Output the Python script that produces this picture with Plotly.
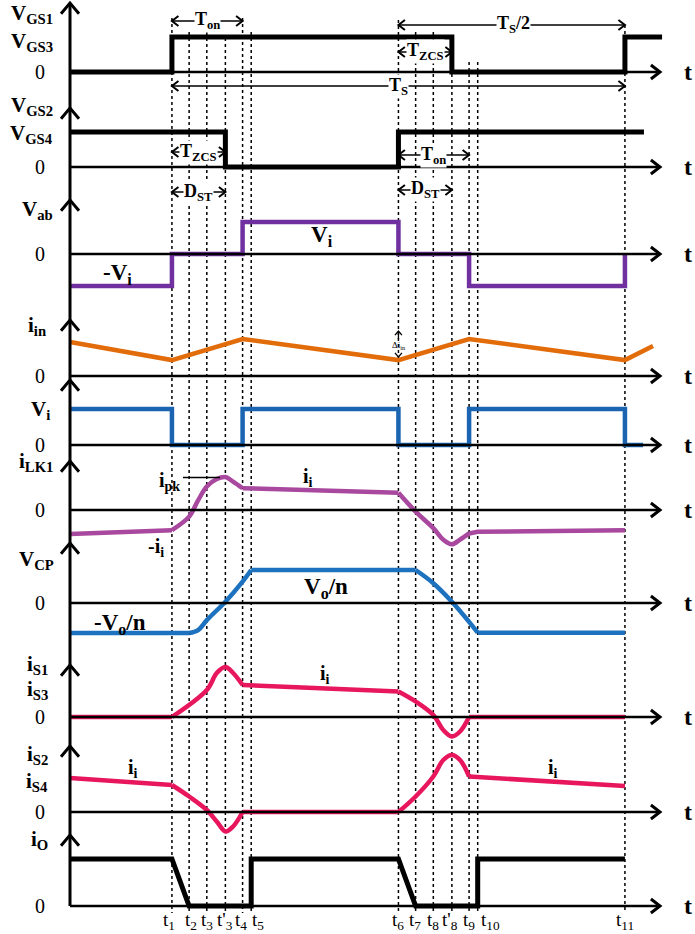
import plotly.graph_objects as go

W, H = 695, 934
SERIF = "Liberation Serif"
PX0 = 70            # pixel column of the vertical axis (t = 0)
PX_PER_T = 4.53     # pixels per time unit (Ts = 100 units)

# ---------------- data ----------------
instant_labels = ["t<sub>1</sub>", "t<sub>2</sub>", "t<sub>3</sub>", "t'<sub>3</sub>", "t<sub>4</sub>",
                  "t<sub>5</sub>", "t<sub>6</sub>", "t<sub>7</sub>", "t<sub>8</sub>", "t'<sub>8</sub>",
                  "t<sub>9</sub>", "t<sub>10</sub>", "t<sub>11</sub>"]
instants = [22.5, 26.3, 30.2, 34.3, 38.1, 40.0, 72.5, 76.3, 80.2, 84.3, 88.1, 90.0, 122.5]
T1, T2, T3, T3P, T4, T5, T6, T7, T8, T8P, T9, T10, T11 = instants

vgs13_t = [0, T1, T1, T8P, T8P, T11, T11, 130.7]
vgs13_v = [0, 0, 1, 1, 0, 0, 1, 1]

vgs24_t = [0, T3P, T3P, T6, T6, 126.7]
vgs24_v = [1, 1, 0, 0, 1, 1]

vab_t = [0, T1, T1, T4, T4, T6, T6, T9, T9, T11, T11]
vab_v = [-1, -1, 0, 0, 1, 1, 0, 0, -1, -1, 0]

iin_t = [0, T1, T4, T6, T9, T11, 128.7]
iin_v = [0.92, 0.43, 1.0, 0.43, 1.0, 0.43, 0.81]

vi_t = [0, T1, T1, T4, T4, T6, T6, T9, T9, T11, T11, 126.5]
vi_v = [1, 1, 0, 0, 1, 1, 0, 0, 1, 1, 0, 0]

# pieces: (shape, times, values)
ilk1_pieces = [
    ("linear", [0, T1], [-0.73, -0.61]),
    ("spline", [T1, T2, 28.3, T3, 32.4, T3P, 36.0, T4], [-0.61, -0.2, 0.3, 0.71, 0.94, 1.0, 0.86, 0.66]),
    ("linear", [T4, T6], [0.66, 0.52]),
    ("spline", [T6, T7, T8, 82.4, T8P, 86.1, T9], [0.52, -0.05, -0.55, -0.9, -1.04, -0.9, -0.71]),
    ("linear", [T9, T10, T11], [-0.71, -0.66, -0.61]),
]

vcp_pieces = [
    ("linear", [0, T2], [-0.91, -0.91]),
    ("spline", [T2, 28.3, T3, T3P, T4, T5], [-0.91, -0.82, -0.52, 0.04, 0.65, 1.0]),
    ("linear", [T5, T7], [1.0, 1.0]),
    ("spline", [T7, T8, T8P, T9, T10], [1.0, 0.6, 0.04, -0.57, -0.9]),
    ("linear", [T10, T11], [-0.9, -0.9]),
]

is13_pieces = [
    ("linear", [0, T1], [0, 0]),
    ("spline", [T1, T3, 32.4, T3P, 36.0, T4], [0, 0.54, 0.88, 1.0, 0.88, 0.64]),
    ("linear", [T4, T6], [0.64, 0.51]),
    ("spline", [T6, T7, T8, 82.4, T8P, 86.1, T9], [0.51, 0.31, 0.04, -0.26, -0.39, -0.29, 0]),
    ("linear", [T9, T11], [0, 0]),
]

is24_pieces = [
    ("linear", [0, T1], [0.68, 0.54]),
    ("spline", [T1, T2, T3, 32.4, T3P, 36.0, T4], [0.54, 0.31, 0.04, -0.19, -0.39, -0.29, 0]),
    ("linear", [T4, T6], [0, 0]),
    ("spline", [T6, T7, T8, 82.4, T8P, 86.1, T9], [0, 0.31, 0.71, 1.04, 1.14, 1.04, 0.71]),
    ("linear", [T9, T10, T11], [0.71, 0.70, 0.52]),
]

io_t = [0, T1, T2, T5, T5, T6, T7, T10, T10, T11]
io_v = [1, 1, 0, 0, 1, 1, 0, 0, 1, 1]

# ---------------- layout geometry ----------------
# per row: baseline pixel, pixels per unit, arrow tip pixel
rows = [(72, 35, 3), (167, 35, 108), (254, 32, 200), (376, 37, 320), (445, 36, 380),
        (510, 33, 461), (603, 33, 543), (717, 50, 665), (812, 50, 746), (906, 47, 835)]
AXIS_END = (660 - PX0) / PX_PER_T
dash_top_px = [18, 32, 32, 38, 18, 32, 20, 32, 32, 38, 62, 62, 25]
label_shift = [-3, 2, 0, 0, -2, 7, 0, -1, 0, -2, 0, 13, 0]


def yname(k):
    return "y" if k == 0 else f"y{k + 1}"


def py(px):
    return 1 - px / H


shapes = []
annotations = []


def chevron(x, y, direction, xref="x", yref="paper", s=9, width=2.5):
    paths = {
        "up": f"M {-s} {-s * 1.2} L 0 0 L {s} {-s * 1.2}",
        "right": f"M {-s * 1.3} {s} L 0 0 L {-s * 1.3} {-s}",
        "left": f"M {s * 1.3} {s} L 0 0 L {s * 1.3} {-s}",
        "down": f"M {-s} {s * 1.2} L 0 0 L {s} {s * 1.2}",
    }
    shapes.append(dict(type="path", xref=xref, yref=yref, xsizemode="pixel", ysizemode="pixel",
                       xanchor=x, yanchor=y, path=paths[direction],
                       line=dict(color="black", width=width)))


def label(text, x_px, y_px, size=21, bold=True, xanchor="center"):
    annotations.append(dict(text=f"<b>{text}</b>" if bold else text, x=x_px / W, y=py(y_px),
                            xref="paper", yref="paper", xanchor=xanchor, yanchor="middle",
                            showarrow=False, font=dict(family=SERIF, size=size, color="black")))


def span(ta, tb, y_px, text, t_text):
    shapes.append(dict(type="line", xref="x", yref="paper", x0=ta, x1=tb, y0=py(y_px), y1=py(y_px),
                       line=dict(color="black", width=1.6)))
    chevron(ta, py(y_px), "left", s=5, width=2)
    chevron(tb, py(y_px), "right", s=5, width=2)
    annotations.append(dict(text=f"<b>{text}</b>", x=t_text, y=py(y_px), xref="x", yref="paper",
                            xanchor="center", yanchor="middle", showarrow=False, bgcolor="white",
                            borderpad=0, font=dict(family=SERIF, size=18, color="black")))


fig = go.Figure()

# dashed instant markers
for t, top in zip(instants, dash_top_px):
    shapes.append(dict(type="line", xref="x", yref="paper", x0=t, x1=t, y0=py(top), y1=py(913),
                       line=dict(color="black", width=1.5, dash="dot"), layer="below"))

# axes
shapes.append(dict(type="line", xref="x", yref="paper", x0=0, x1=0, y0=py(rows[0][2]), y1=py(rows[-1][0]),
                   line=dict(color="black", width=3)))
for k, (base, unit, tip) in enumerate(rows):
    shapes.append(dict(type="line", xref="x", yref=yname(k), x0=0, x1=AXIS_END, y0=0, y1=0,
                       line=dict(color="black", width=2.5)))
    chevron(AXIS_END, 0, "right", yref=yname(k), s=7, width=3)
    chevron(0, py(tip), "up", s=9, width=3)
    label("t", 688, base, size=24)


def add_line(t, v, k, color, width=4.5, shape="linear"):
    fig.add_trace(go.Scatter(x=t, y=v, mode="lines", yaxis=yname(k), hoverinfo="skip",
                             line=dict(color=color, width=width, shape=shape, smoothing=1.0)))


add_line(vgs13_t, vgs13_v, 0, "black", 5)
add_line(vgs24_t, vgs24_v, 1, "black", 5)
add_line(vab_t, vab_v, 2, "#7030A0")
add_line(iin_t, iin_v, 3, "#E36C0A")
add_line(vi_t, vi_v, 4, "#1A64B2")
for shape, t, v in ilk1_pieces:
    add_line(t, v, 5, "#A8489F", shape=shape)
for shape, t, v in vcp_pieces:
    add_line(t, v, 6, "#1C72BE", shape=shape)
for shape, t, v in is13_pieces:
    add_line(t, v, 7, "#E8175D", shape=shape)
for shape, t, v in is24_pieces:
    add_line(t, v, 8, "#E8175D", shape=shape)
add_line(io_t, io_v, 9, "black", 5)

# time labels along the bottom
for t, lab, dx in zip(instants, instant_labels, label_shift):
    annotations.append(dict(text=lab, x=t, y=py(921), xref="x", yref="paper", xshift=dx,
                            xanchor="center", yanchor="middle", showarrow=False,
                            font=dict(family=SERIF, size=19, color="black")))

# left axis labels
for text, x, y in [("V<sub>GS1</sub>", 55, 14), ("V<sub>GS3</sub>", 55, 42), ("V<sub>GS2</sub>", 55, 106),
                   ("V<sub>GS4</sub>", 55, 134), ("V<sub>ab</sub>", 55, 210), ("i<sub>in</sub>", 48, 326),
                   ("V<sub>i</sub>", 52, 410), ("i<sub>LK1</sub>", 55, 462), ("V<sub>CP</sub>", 56, 560),
                   ("i<sub>S1</sub>", 50, 665), ("i<sub>S3</sub>", 50, 690), ("i<sub>S2</sub>", 50, 755),
                   ("i<sub>S4</sub>", 50, 782), ("i<sub>O</sub>", 50, 840)]:
    label(text, x, y, xanchor="right")
for base, _, _ in rows:
    label("0", 40, base, size=20, bold=False)

# in-plot labels
label("-V<sub>i</sub>", 117, 274, size=23)
label("V<sub>i</sub>", 322, 236, size=23)
label("i<sub>pk</sub>", 169, 481, size=20)
label("i<sub>i</sub>", 308, 477, size=20)
label("-i<sub>i</sub>", 156, 547, size=20)
label("V<sub>o</sub>/n", 326, 588, size=23)
label("-V<sub>o</sub>/n", 120, 624, size=23)
label("i<sub>i</sub>", 325, 674, size=20)
label("i<sub>i</sub>", 133, 768, size=20)
label("i<sub>i</sub>", 553, 768, size=20)
shapes.append(dict(type="line", xref="paper", yref="paper", x0=183 / W, x1=220 / W, y0=py(477.5), y1=py(477.5),
                   line=dict(color="black", width=1.3)))

# delta i_in marker
shapes.append(dict(type="line", xref="x", yref="paper", x0=T6, x1=T6, y0=py(331), y1=py(339),
                   line=dict(color="black", width=1.3)))
chevron(T6, py(331), "up", s=3.5, width=1.3)
chevron(T6, py(357), "down", s=3.5, width=1.3)
label("Δi<sub>in</sub>", 399, 345, size=9, bold=False)

# time spans
span(T1, T4, 21, "T<sub>on</sub>", (T1 + T4) / 2)
span(T6, T11, 25, "T<sub>S</sub>/2", (T6 + T11) / 2 + 0.5)
span(T6, T8P, 52, "T<sub>ZCS</sub>", (T6 + T8P) / 2)
span(T1, T11, 86, "T<sub>S</sub>", T6)
span(T1, T3P, 152, "T<sub>ZCS</sub>", (T1 + T3P) / 2)
span(T6, T9, 155, "T<sub>on</sub>", (T6 + T9) / 2)
span(T1, T3P, 192, "D<sub>ST</sub>", (T1 + T3P) / 2)
span(T6, T8P, 190, "D<sub>ST</sub>", (T6 + T8P) / 2)

layout = dict(
    width=W, height=H, margin=dict(l=0, r=0, t=0, b=0),
    paper_bgcolor="white", plot_bgcolor="white", showlegend=False,
    xaxis=dict(range=[-PX0 / PX_PER_T, (W - PX0) / PX_PER_T], visible=False, fixedrange=True, domain=[0, 1]),
    shapes=shapes, annotations=annotations,
)
for k, (base, unit, _) in enumerate(rows):
    ax = dict(range=[-(H - base) / unit, base / unit], visible=False, fixedrange=True)
    if k == 0:
        ax["domain"] = [0, 1]
    else:
        ax["overlaying"] = "y"
    layout["yaxis" if k == 0 else f"yaxis{k + 1}"] = ax
fig.update_layout(**layout)

# the page body has a default margin; drop it so the figure sits at the window origin
fig.write_html("out.html", config={"displayModeBar": False},
               post_script="document.body.style.margin='0';document.body.style.overflow='hidden';")
